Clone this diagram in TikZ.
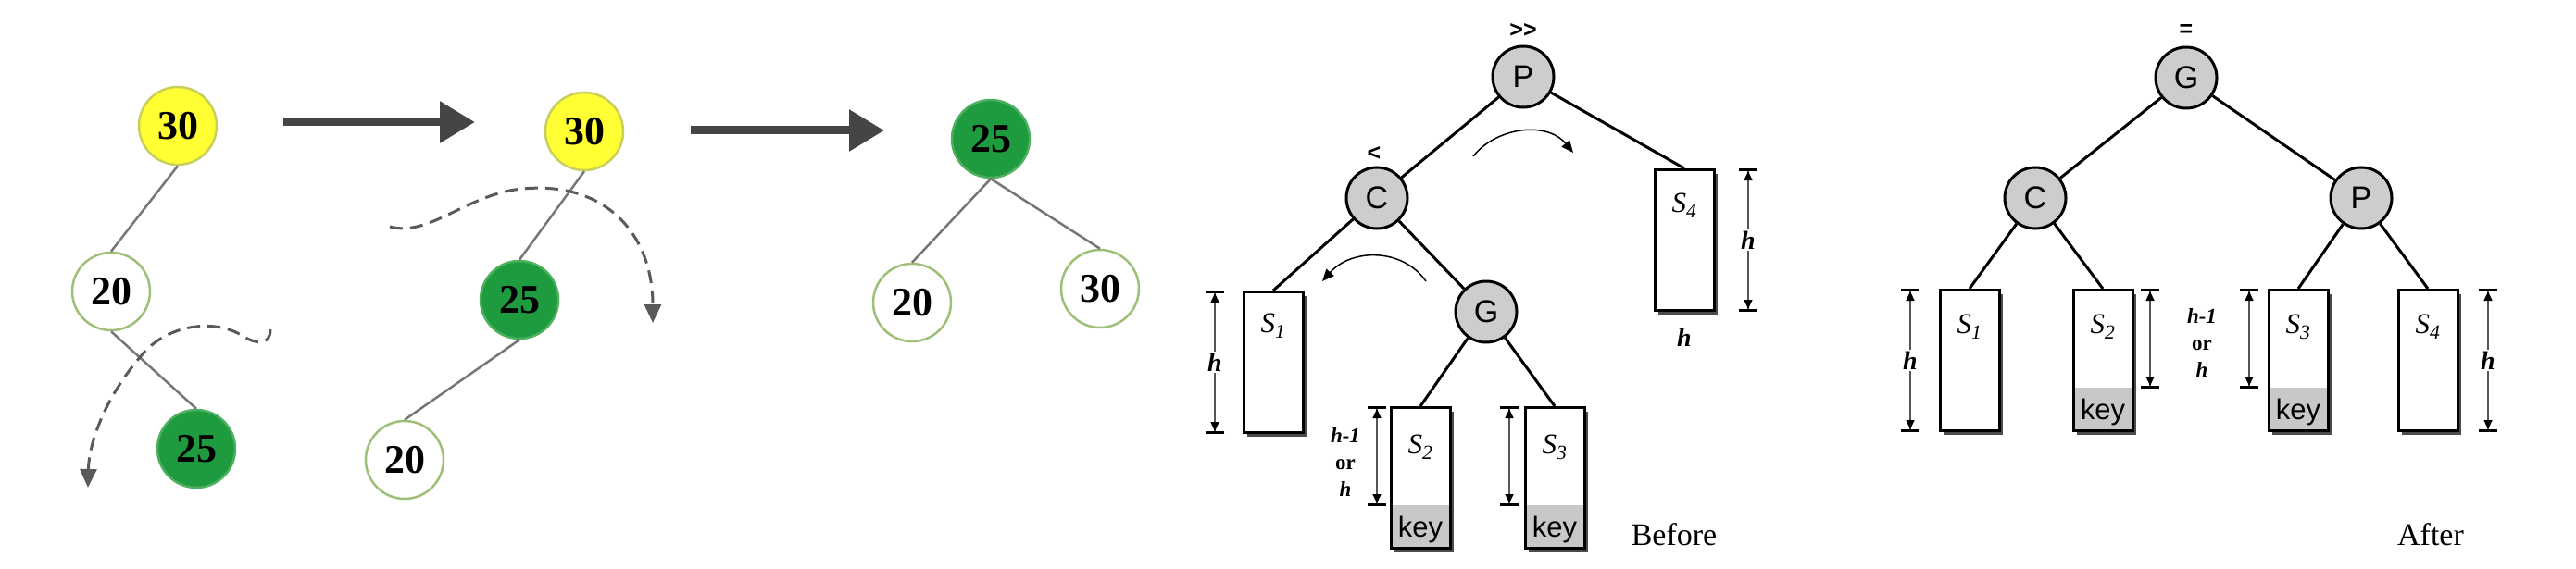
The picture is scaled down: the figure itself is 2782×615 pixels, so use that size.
\documentclass[tikz,border=0pt]{standalone}
\usepackage{fontspec}
\setmainfont{Liberation Serif}
\newfontfamily\sansf{Liberation Sans}
\usetikzlibrary{arrows.meta,shadows}
\definecolor{yel}{HTML}{FFFF33}
\definecolor{yelring}{HTML}{C9CF5A}
\definecolor{grn}{HTML}{1E9B3F}
\definecolor{grnring}{HTML}{4DAF5F}
\definecolor{ringg}{HTML}{9DBF77}
\definecolor{edgeg}{HTML}{767676}
\definecolor{darkarr}{HTML}{454545}
\definecolor{dashg}{HTML}{5A5A5A}
\definecolor{nodegray}{HTML}{CDCDCD}
\definecolor{keygray}{HTML}{C8C8C8}
\definecolor{dimg}{HTML}{555555}
\begin{document}
\begin{tikzpicture}[x=1pt,y=-1pt,
  num/.style={circle, minimum size=84pt, inner sep=0pt, line width=2.5pt, draw=ringg,
    font=\bfseries\fontsize{44}{44}\selectfont},
  wnum/.style={num, fill=white},
  ynum/.style={num, fill=yel, draw=yelring},
  gnum/.style={num, fill=grn, draw=grnring},
  tedge/.style={draw=edgeg, line width=2.5pt},
  bigarrow/.style={draw=darkarr, line width=9pt, -{Triangle[length=38pt,width=43pt]}},
  dasharrow/.style={draw=dashg, line width=3pt, dash pattern=on 14pt off 8pt,
    -{Triangle[length=20pt,width=18pt]}},
  letter/.style={circle, minimum size=66pt, inner sep=0pt, line width=3pt, draw=black,
    fill=nodegray, font=\sansf\fontsize{34}{34}\selectfont},
  bedge/.style={draw=black, line width=3pt},
  subtree/.style={rectangle, minimum width=64pt, minimum height=152pt, inner sep=0pt,
    draw=black, line width=3pt, fill=white, anchor=north,
    drop shadow={shadow xshift=4pt, shadow yshift=-4pt, fill=black!70, opacity=1}},
  keybox/.style={subtree, path picture={\fill[keygray]
    (path picture bounding box.south west) rectangle
    ([yshift=47pt]path picture bounding box.south east);}},
  slabel/.style={font=\itshape\fontsize{31}{31}\selectfont},
  keylabel/.style={font=\sansf\fontsize{31}{31}\selectfont, anchor=south, yshift=4pt},
  dimline/.style={draw=dimg, line width=1.5pt,
    {Bar[width=20pt,line width=3pt,black]Triangle[length=10pt,width=9pt,black]}-{Triangle[length=10pt,width=9pt,black]Bar[width=20pt,line width=3pt,black]}},
  hlab/.style={fill=white, inner sep=2pt, font=\bfseries\itshape\fontsize{28}{28}\selectfont},
  hor/.style={align=center, font=\bfseries\fontsize{23}{29}\selectfont},
  marklab/.style={font=\sansf\bfseries\fontsize{25}{25}\selectfont},
  rotarrow/.style={draw=black, line width=1.5pt, -{Triangle[length=13pt,width=11pt]}},
  caption/.style={font=\fontsize{34}{34}\selectfont}
]
\fill[white] (0,0) rectangle (2782,615);
\useasboundingbox (0,0) rectangle (2782,615);

% ---------- tree 1 ----------
\node[ynum] (t1a) at (192,136) {30};
\node[wnum] (t1b) at (120,315) {20};
\node[gnum] (t1c) at (212,485) {25};
\draw[tedge] (t1a.south) -- (t1b.north);
\draw[tedge] (t1b.south) -- (t1c.north);
\coordinate (d1s) at (292,356);
\coordinate (d1e) at (95,527);
\draw[dasharrow] (d1s) .. controls (292,374) and (276,372) .. (262,363)
  .. controls (232,344) and (180,350) .. (152,385)
  .. controls (112,432) and (96,480) .. (d1e);

% ---------- arrow 1 ----------
\coordinate (a1s) at (306,132);
\coordinate (a1e) at (513,132);
\draw[bigarrow] (a1s) -- (a1e);

% ---------- tree 2 ----------
\node[ynum] (t2a) at (631,142) {30};
\node[gnum] (t2b) at (561,324) {25};
\node[wnum] (t2c) at (437,497) {20};
\draw[tedge] (t2a.south) -- (t2b.north);
\draw[tedge] (t2b.south) -- (t2c.north);
\coordinate (d2s) at (421,245);
\coordinate (d2e) at (705,349);
\draw[dasharrow] (d2s) .. controls (462,256) and (500,214) .. (556,205)
  .. controls (650,192) and (705,250) .. (d2e);

% ---------- arrow 2 ----------
\coordinate (a2s) at (746,141);
\coordinate (a2e) at (955,141);
\draw[bigarrow] (a2s) -- (a2e);

% ---------- tree 3 ----------
\node[gnum] (t3a) at (1070,150) {25};
\node[wnum] (t3b) at (985,327) {20};
\node[wnum] (t3c) at (1188,312) {30};
\draw[tedge] (t3a.south) -- (t3b.north);
\draw[tedge] (t3a.south) -- (t3c.north);

% ---------- Before ----------
\node[letter] (bP) at (1645,83) {P};
\node[letter] (bC) at (1487,214) {C};
\node[letter] (bG) at (1605,337) {G};
\node[marklab] (bPm) at (1645,33) {>>};
\node[marklab] (bCm) at (1484,166) {<};
\node[subtree] (bS1) at (1375,314) {};
\node[subtree] (bS4) at (1819,182) {};
\node[keybox] (bS2) at (1534,439) {};
\node[keybox] (bS3) at (1679,439) {};
\draw[bedge] (bP) -- (bC);
\draw[bedge] (bP) -- (bS4.north);
\draw[bedge] (bC) -- (bS1.north);
\draw[bedge] (bC) -- (bG);
\draw[bedge] (bG) -- (bS2.north);
\draw[bedge] (bG) -- (bS3.north);
\node[slabel] (bS1l) at ([yshift=-38pt]bS1.north) {S\textsubscript{1}};
\node[slabel] (bS4l) at ([yshift=-40pt]bS4.north) {S\textsubscript{4}};
\node[slabel] (bS2l) at ([yshift=-44pt]bS2.north) {S\textsubscript{2}};
\node[slabel] (bS3l) at ([yshift=-44pt]bS3.north) {S\textsubscript{3}};
\node[keylabel] (bK2) at (bS2.south) {key};
\node[keylabel] (bK3) at (bS3.south) {key};
\draw[dimline] ([xshift=-63pt]bS1.north) -- node[hlab] {h} ([xshift=-63pt]bS1.south);
\draw[dimline] ([xshift=69pt]bS4.north) -- node[hlab] {h} ([xshift=69pt]bS4.south);
\draw[dimline] ([xshift=-47pt]bS2.north) -- ([xshift=-47pt,yshift=47pt]bS2.south);
\draw[dimline] ([xshift=-49pt]bS3.north) -- ([xshift=-49pt,yshift=47pt]bS3.south);
\node[hlab, fill=none] (bS4h) at (1819,365) {h};
\node[hor] (bS2h) at (1453,500) {\itshape h-1\\or\\\itshape h};
\coordinate (rA1) at (1591,169);
\coordinate (rA2) at (1699,165);
\draw[rotarrow] (rA1) .. controls (1615,138) and (1670,130) .. (rA2);
\coordinate (rB1) at (1540,304);
\coordinate (rB2) at (1428,304);
\draw[rotarrow] (rB1) .. controls (1515,268) and (1460,268) .. (rB2);
\node[caption] (before) at (1808,578) {Before};

% ---------- After ----------
\node[letter] (aG) at (2361,84) {G};
\node[letter] (aC) at (2198,214) {C};
\node[letter] (aP) at (2550,214) {P};
\node[marklab] (aGm) at (2361,33) {=};
\node[subtree] (aS1) at (2127,312) {};
\node[keybox] (aS2) at (2271,312) {};
\node[keybox] (aS3) at (2482,312) {};
\node[subtree] (aS4) at (2622,312) {};
\draw[bedge] (aG) -- (aC);
\draw[bedge] (aG) -- (aP);
\draw[bedge] (aC) -- (aS1.north);
\draw[bedge] (aC) -- (aS2.north);
\draw[bedge] (aP) -- (aS3.north);
\draw[bedge] (aP) -- (aS4.north);
\node[slabel] (aS1l) at ([yshift=-41pt]aS1.north) {S\textsubscript{1}};
\node[slabel] (aS2l) at ([yshift=-41pt]aS2.north) {S\textsubscript{2}};
\node[slabel] (aS3l) at ([yshift=-41pt]aS3.north) {S\textsubscript{3}};
\node[slabel] (aS4l) at ([yshift=-41pt]aS4.north) {S\textsubscript{4}};
\node[keylabel] (aK2) at (aS2.south) {key};
\node[keylabel] (aK3) at (aS3.south) {key};
\draw[dimline] ([xshift=-64pt]aS1.north) -- node[hlab] {h} ([xshift=-64pt]aS1.south);
\draw[dimline] ([xshift=51pt]aS2.north) -- ([xshift=51pt,yshift=47pt]aS2.south);
\draw[dimline] ([xshift=-53pt]aS3.north) -- ([xshift=-53pt,yshift=47pt]aS3.south);
\draw[dimline] ([xshift=65pt]aS4.north) -- node[hlab] {h} ([xshift=65pt]aS4.south);
\node[hor] (aS2h) at (2378,371) {\itshape h-1\\or\\\itshape h};
\node[caption] (after) at (2625,578) {After};
\end{tikzpicture}
\end{document}
